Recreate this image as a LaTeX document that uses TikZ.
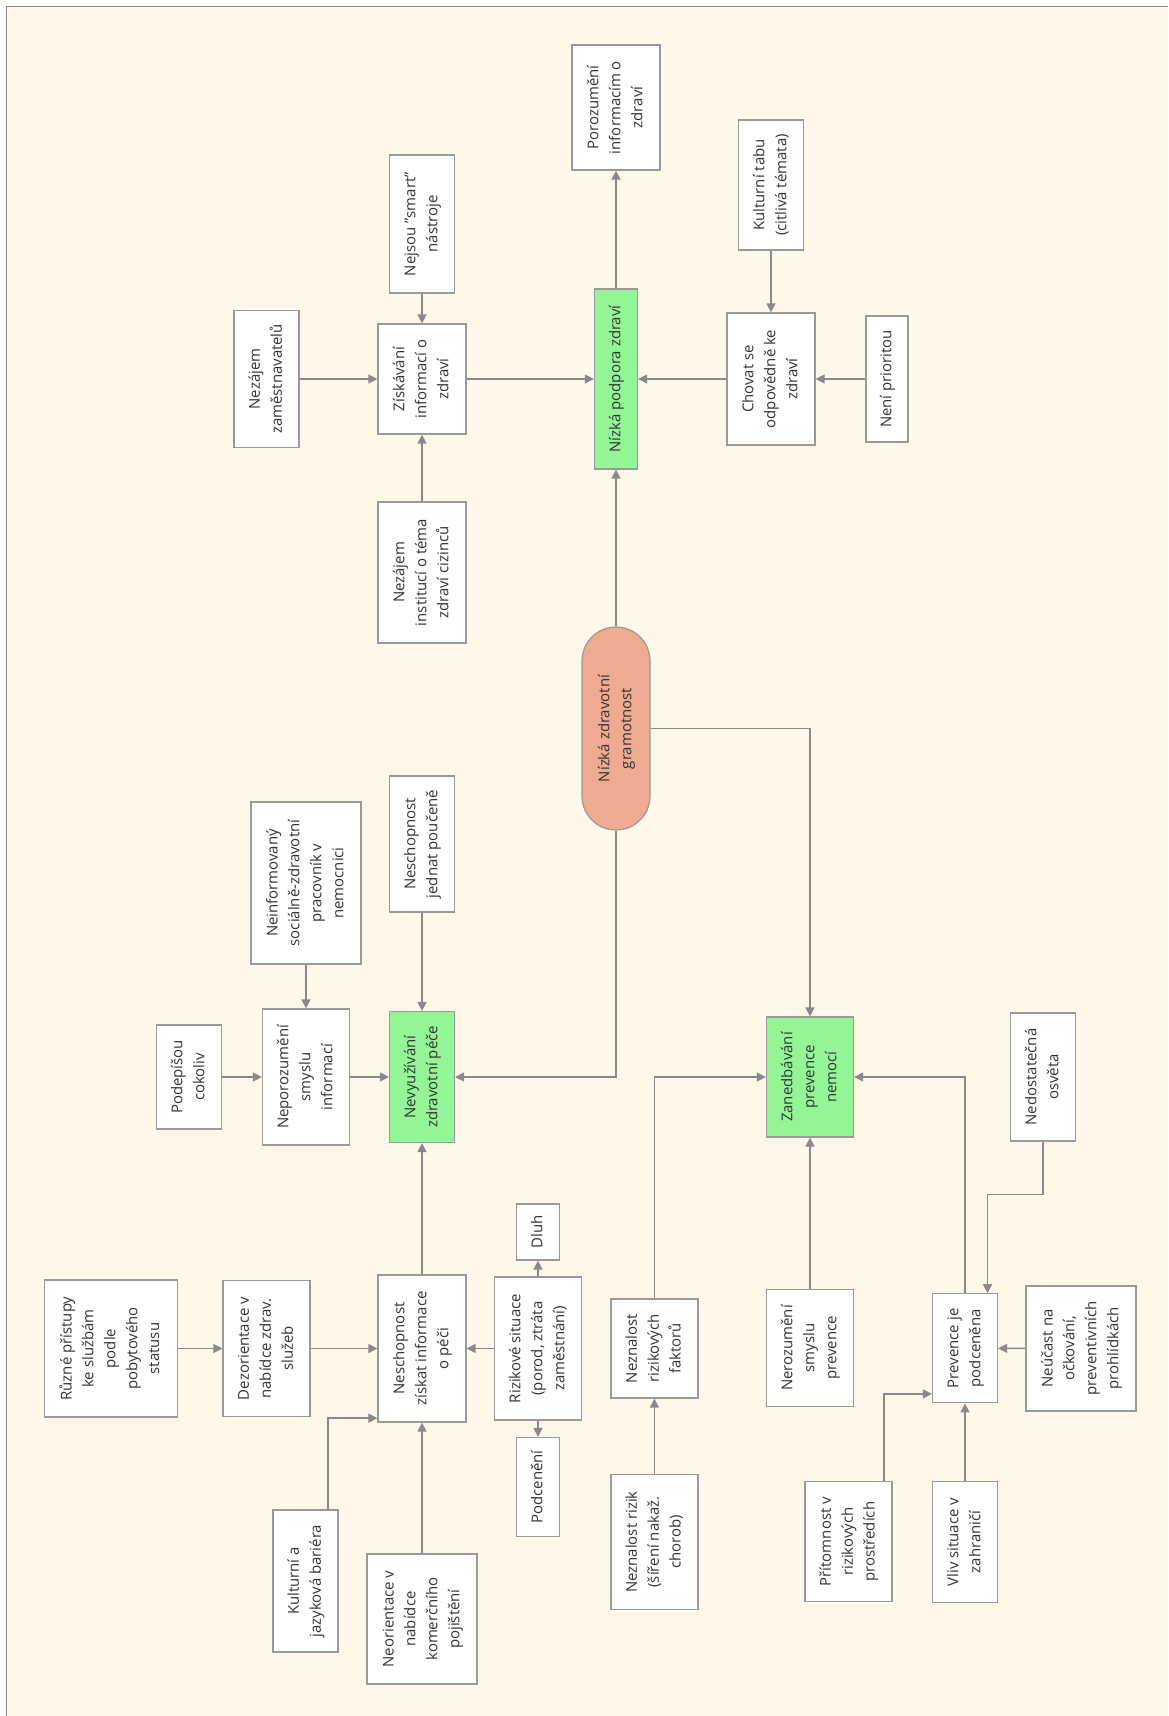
\documentclass[tikz,border=0pt]{standalone}
\usepackage{fontspec}
\setmainfont{Open Sans}
\usepackage{graphicx}
\usetikzlibrary{arrows.meta}
\definecolor{bg}{HTML}{FFF7E8}
\definecolor{ln}{HTML}{8A8A8A}
\definecolor{bd}{HTML}{9A9A9A}
\definecolor{grn}{HTML}{93F596}
\definecolor{pillc}{HTML}{EFAB91}
\definecolor{txt}{HTML}{333333}
\newcommand{\rt}[1]{\rotatebox{90}{\begin{tabular}{@{}c@{}}#1\end{tabular}}}
\begin{document}
\begin{tikzpicture}[x=1bp,y=-1bp,
  box/.style={draw=bd,line width=1.2bp,fill=white,inner sep=0pt,text=txt,
    font=\fontsize{15}{22}\selectfont},
  gbox/.style={box,fill=grn},
  pillbox/.style={box,fill=pillc,rounded corners=34bp},
  arr/.style={draw=ln,line width=1.3bp,-{Triangle[length=9bp,width=9bp]}},
  ln/.style={draw=ln,line width=1.3bp}]
\useasboundingbox (0,0) rectangle (1168,1716);
\fill[white] (0,0) rectangle (1168,1716);
\fill[bg] (6.5,6.5) rectangle (1168,1716);
\draw[draw=ln,line width=1.5bp] (6.5,1716) -- (6.5,6.5) -- (1168,6.5);

% top area
\node[box,minimum width=65bp,minimum height=138bp] (smart) at (422,224) {\rt{Nejsou "smart"\\nástroje}};
\node[box,minimum width=65bp,minimum height=137bp] (nezam) at (266.5,379) {\rt{Nezájem\\zaměstnavatelů}};
\node[box,minimum width=88bp,minimum height=110bp] (ziskavani) at (422,379) {\rt{Získávání\\informací o\\zdraví}};
\node[box,minimum width=88bp,minimum height=141bp] (nezinst) at (422,572.5) {\rt{Nezájem\\institucí o téma\\zdraví cizinců}};
\node[box,minimum width=88bp,minimum height=125bp] (porozumeni) at (616,107.5) {\rt{Porozumění\\informacím o\\zdraví}};
\node[gbox,minimum width=43bp,minimum height=180bp] (podpora) at (616,379) {\rt{Nízká podpora zdraví}};
\node[box,minimum width=65bp,minimum height=130bp] (tabu) at (771,185) {\rt{Kulturní tabu\\(citlivá témata)}};
\node[box,minimum width=88bp,minimum height=132bp] (chovat) at (771,379) {\rt{Chovat se\\odpovědně ke\\zdraví}};
\node[box,minimum width=42bp,minimum height=126bp] (neni) at (887,379) {\rt{Není prioritou}};

% centre
\node[pillbox,minimum width=68bp,minimum height=203bp] (gram) at (616,728.5) {\rt{Nízká zdravotní\\gramotnost}};

% middle left
\node[box,minimum width=110bp,minimum height=162bp] (neinf) at (306,883) {\rt{Neinformovaný\\sociálně-zdravotní\\pracovník v\\nemocnici}};
\node[box,minimum width=65bp,minimum height=136bp] (jednat) at (422,844) {\rt{Neschopnost\\jednat poučeně}};
\node[box,minimum width=65bp,minimum height=104bp] (podepisou) at (189,1077) {\rt{Podepíšou\\cokoliv}};
\node[box,minimum width=87bp,minimum height=136bp] (neporoz) at (306,1077) {\rt{Neporozumění\\smyslu\\informací}};
\node[gbox,minimum width=65bp,minimum height=131bp] (nevyuz) at (422,1077) {\rt{Nevyužívání\\zdravotní péče}};

% middle right
\node[gbox,minimum width=87bp,minimum height=120bp] (zaned) at (810,1077) {\rt{Zanedbávání\\prevence\\nemocí}};
\node[box,minimum width=65bp,minimum height=128bp] (osveta) at (1043,1077) {\rt{Nedostatečná\\osvěta}};

% bottom left
\node[box,minimum width=133bp,minimum height=137bp] (ruzne) at (111,1348.5) {\rt{Různé přístupy\\ke službám\\podle\\pobytového\\statusu}};
\node[box,minimum width=87bp,minimum height=136bp] (dezor) at (266.5,1348.5) {\rt{Dezorientace v\\nabídce zdrav.\\služeb}};
\node[box,minimum width=88bp,minimum height=147bp] (neschz) at (422,1348.5) {\rt{Neschopnost\\získat informace\\o péči}};
\node[box,minimum width=87bp,minimum height=143bp] (riziko) at (538,1348.5) {\rt{Rizikové situace\\(porod, ztráta\\zaměstnání)}};
\node[box,minimum width=43bp,minimum height=56bp] (dluh) at (538,1232) {\rt{Dluh}};
\node[box,minimum width=43bp,minimum height=99bp] (podceneni) at (538,1487) {\rt{Podcenění}};
\node[box,minimum width=65bp,minimum height=142bp] (kultjaz) at (305.5,1581) {\rt{Kulturní a\\jazyková bariéra}};
\node[box,minimum width=110bp,minimum height=130bp] (neorient) at (422,1619) {\rt{Neorientace v\\nabídce\\komerčního\\pojištění}};

% bottom right
\node[box,minimum width=87bp,minimum height=99bp] (nezfakt) at (654.4,1348.5) {\rt{Neznalost\\rizikových\\faktorů}};
\node[box,minimum width=87bp,minimum height=135bp] (nezrizik) at (654.4,1542) {\rt{Neznalost rizik\\(šíření nakaž.\\chorob)}};
\node[box,minimum width=87bp,minimum height=117bp] (nerozum) at (810,1348) {\rt{Nerozumění\\smyslu\\prevence}};
\node[box,minimum width=65bp,minimum height=109bp] (prevpod) at (965,1348.3) {\rt{Prevence je\\podceněna}};
\node[box,minimum width=110bp,minimum height=125bp] (neucast) at (1081,1348.4) {\rt{Neúčast na\\očkování,\\preventivních\\prohlídkách}};
\node[box,minimum width=87bp,minimum height=120bp] (pritom) at (848.4,1541.7) {\rt{Přítomnost v\\rizikových\\prostředích}};
\node[box,minimum width=65bp,minimum height=121bp] (vliv) at (965,1542) {\rt{Vliv situace v\\zahraničí}};

% connectors top
\draw[arr] (nezam) -- (ziskavani);
\draw[arr] (smart) -- (ziskavani);
\draw[arr] (nezinst) -- (ziskavani);
\draw[arr] (ziskavani) -- (podpora);
\draw[arr] (chovat) -- (podpora);
\draw[arr] (tabu) -- (chovat);
\draw[arr] (neni) -- (chovat);
\draw[arr] (podpora) -- (porozumeni);
\draw[arr] (gram) -- (podpora);
\draw[arr] (gram.east) -| (zaned.north);
\draw[arr] (gram.south) |- (nevyuz.east);

% connectors middle left
\draw[arr] (neinf) -- (neporoz);
\draw[arr] (podepisou) -- (neporoz);
\draw[arr] (neporoz) -- (nevyuz);
\draw[arr] (jednat) -- (nevyuz);
\draw[arr] (neschz) -- (nevyuz);

% connectors bottom left
\draw[arr] (ruzne) -- (dezor);
\draw[arr] (dezor) -- (neschz);
\draw[arr] (riziko) -- (neschz);
\draw[arr] (riziko) -- (dluh);
\draw[arr] (riziko) -- (podceneni);
\draw[arr] ([xshift=22.5bp]kultjaz.north) |- ([yshift=4.5bp]neschz.south west);
\draw[arr] (neorient) -- (neschz);

% connectors bottom right
\draw[arr] (nezrizik) -- (nezfakt);
\draw[arr] (nezfakt.north) |- (zaned.west);
\draw[arr] (nerozum) -- (zaned);
\draw[arr] (prevpod.north) |- (zaned.east);
\draw[arr] (osveta.south) -- ++(0,53) -| ([xshift=22.5bp]prevpod.north);
\draw[arr] (neucast) -- (prevpod);
\draw[arr] ([xshift=35.5bp]pritom.north) |- ([yshift=9.5bp]prevpod.south west);
\draw[arr] (vliv) -- (prevpod);
\end{tikzpicture}
\end{document}
